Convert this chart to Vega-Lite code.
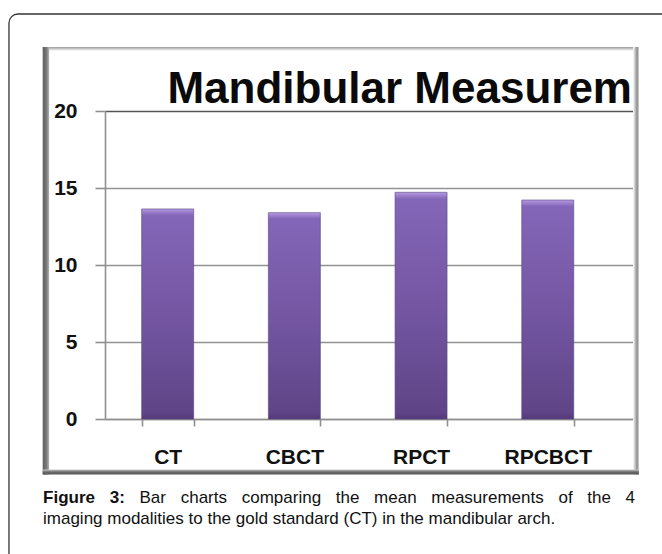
{
  "$schema": "https://vega.github.io/schema/vega-lite/v6.json",
  "width": 532,
  "height": 308,
  "autosize": {"type": "none"},
  "padding": {"left": 105, "top": 111, "right": 25, "bottom": 135},
  "background": "white",
  "config": {"view": {"stroke": null}},
  "resolve": {"scale": {"x": "independent"}, "axis": {"x": "independent", "y": "independent"}},
  "layer": [
    {
      "data": {"values": [{}]},
      "layer": [
        {
          "mark": {"type": "rect", "fill": "transparent", "stroke": "#333333", "strokeWidth": 1.3, "cornerRadius": 9},
          "encoding": {
            "x": {"datum": -0.1805, "type": "quantitative", "scale": {"domain": [0, 1], "nice": false, "zero": false}, "axis": null},
            "x2": {"datum": 1.2},
            "y": {"datum": 26.3, "type": "quantitative", "scale": {"domain": [0, 20], "nice": false}, "axis": null},
            "y2": {"datum": -12}
          }
        },
        {
          "mark": {"type": "rect", "fill": {"gradient": "linear", "x1": 0, "y1": 0, "x2": 0, "y2": 1, "stops": [{"offset": 0, "color": "#9a9a9a"}, {"offset": 1, "color": "#ffffff"}]}},
          "encoding": {
            "x": {"datum": -0.1171, "type": "quantitative", "scale": {"domain": [0, 1], "nice": false, "zero": false}, "axis": null},
            "x2": {"datum": 1.0},
            "y": {"datum": 24.156, "type": "quantitative", "scale": {"domain": [0, 20], "nice": false}, "axis": null},
            "y2": {"datum": 23.9}
          }
        },
        {
          "mark": {"type": "rect", "fill": {"gradient": "linear", "x1": 0, "y1": 0, "x2": 1, "y2": 0, "stops": [{"offset": 0, "color": "#ffffff"}, {"offset": 0.7, "color": "#8c8c8c"}, {"offset": 1, "color": "#c8c8c8"}]}},
          "encoding": {
            "x": {"datum": 0.9925, "type": "quantitative", "scale": {"domain": [0, 1], "nice": false, "zero": false}, "axis": null},
            "x2": {"datum": 1.0035},
            "y": {"datum": 24.156, "type": "quantitative", "scale": {"domain": [0, 20], "nice": false}, "axis": null},
            "y2": {"datum": -3.604}
          }
        },
        {
          "mark": {"type": "rect", "fill": {"gradient": "linear", "x1": 0, "y1": 0, "x2": 1, "y2": 0, "stops": [{"offset": 0, "color": "#5e5e5e"}, {"offset": 0.6, "color": "#7a7a7a"}, {"offset": 1, "color": "#b5b5b5"}]}},
          "encoding": {
            "x": {"datum": -0.1171, "type": "quantitative", "scale": {"domain": [0, 1], "nice": false, "zero": false}, "axis": null},
            "x2": {"datum": -0.1050},
            "y": {"datum": 24.156, "type": "quantitative", "scale": {"domain": [0, 20], "nice": false}, "axis": null},
            "y2": {"datum": -3.604}
          }
        },
        {
          "mark": {"type": "rect", "fill": {"gradient": "linear", "x1": 0, "y1": 0, "x2": 0, "y2": 1, "stops": [{"offset": 0, "color": "#c8c8c8"}, {"offset": 0.5, "color": "#6a6a6a"}, {"offset": 1, "color": "#555555"}]}},
          "encoding": {
            "x": {"datum": -0.1171, "type": "quantitative", "scale": {"domain": [0, 1], "nice": false, "zero": false}, "axis": null},
            "x2": {"datum": 1.0035},
            "y": {"datum": -3.28, "type": "quantitative", "scale": {"domain": [0, 20], "nice": false}, "axis": null},
            "y2": {"datum": -3.604}
          }
        },
        {
          "mark": {"type": "text", "align": "right", "baseline": "alphabetic", "font": "Liberation Sans", "fontSize": 44, "fontWeight": "bold", "color": "#0a0a0a", "text": "Mandibular Measurem"},
          "encoding": {
            "x": {"datum": 0.9906, "type": "quantitative", "scale": {"domain": [0, 1], "nice": false, "zero": false}, "axis": null},
            "y": {"datum": 20.52, "type": "quantitative", "scale": {"domain": [0, 20], "nice": false}, "axis": null}
          }
        },
        {
          "mark": {"type": "text", "align": "left", "baseline": "alphabetic", "font": "Liberation Sans", "fontSize": 17, "fontWeight": "bold", "color": "#111111", "text": "Figure"},
          "encoding": {
            "x": {"datum": -0.1165, "type": "quantitative", "scale": {"domain": [0, 1], "nice": false, "zero": false}, "axis": null},
            "y": {"datum": -5.474, "type": "quantitative", "scale": {"domain": [0, 20], "nice": false}, "axis": null}
          }
        },
        {
          "mark": {"type": "text", "align": "left", "baseline": "alphabetic", "font": "Liberation Sans", "fontSize": 17, "fontWeight": "bold", "color": "#111111", "text": "3:"},
          "encoding": {
            "x": {"datum": 0.0088, "type": "quantitative", "scale": {"domain": [0, 1], "nice": false, "zero": false}, "axis": null},
            "y": {"datum": -5.474, "type": "quantitative", "scale": {"domain": [0, 20], "nice": false}, "axis": null}
          }
        },
        {
          "mark": {"type": "text", "align": "left", "baseline": "alphabetic", "font": "Liberation Sans", "fontSize": 17, "color": "#111111", "text": "Bar"},
          "encoding": {
            "x": {"datum": 0.0648, "type": "quantitative", "scale": {"domain": [0, 1], "nice": false, "zero": false}, "axis": null},
            "y": {"datum": -5.474, "type": "quantitative", "scale": {"domain": [0, 20], "nice": false}, "axis": null}
          }
        },
        {
          "mark": {"type": "text", "align": "left", "baseline": "alphabetic", "font": "Liberation Sans", "fontSize": 17, "color": "#111111", "text": "charts"},
          "encoding": {
            "x": {"datum": 0.1423, "type": "quantitative", "scale": {"domain": [0, 1], "nice": false, "zero": false}, "axis": null},
            "y": {"datum": -5.474, "type": "quantitative", "scale": {"domain": [0, 20], "nice": false}, "axis": null}
          }
        },
        {
          "mark": {"type": "text", "align": "left", "baseline": "alphabetic", "font": "Liberation Sans", "fontSize": 17, "color": "#111111", "text": "comparing"},
          "encoding": {
            "x": {"datum": 0.2570, "type": "quantitative", "scale": {"domain": [0, 1], "nice": false, "zero": false}, "axis": null},
            "y": {"datum": -5.474, "type": "quantitative", "scale": {"domain": [0, 20], "nice": false}, "axis": null}
          }
        },
        {
          "mark": {"type": "text", "align": "left", "baseline": "alphabetic", "font": "Liberation Sans", "fontSize": 17, "color": "#111111", "text": "the"},
          "encoding": {
            "x": {"datum": 0.4338, "type": "quantitative", "scale": {"domain": [0, 1], "nice": false, "zero": false}, "axis": null},
            "y": {"datum": -5.474, "type": "quantitative", "scale": {"domain": [0, 20], "nice": false}, "axis": null}
          }
        },
        {
          "mark": {"type": "text", "align": "left", "baseline": "alphabetic", "font": "Liberation Sans", "fontSize": 17, "color": "#111111", "text": "mean"},
          "encoding": {
            "x": {"datum": 0.5058, "type": "quantitative", "scale": {"domain": [0, 1], "nice": false, "zero": false}, "axis": null},
            "y": {"datum": -5.474, "type": "quantitative", "scale": {"domain": [0, 20], "nice": false}, "axis": null}
          }
        },
        {
          "mark": {"type": "text", "align": "left", "baseline": "alphabetic", "font": "Liberation Sans", "fontSize": 17, "color": "#111111", "text": "measurements"},
          "encoding": {
            "x": {"datum": 0.6133, "type": "quantitative", "scale": {"domain": [0, 1], "nice": false, "zero": false}, "axis": null},
            "y": {"datum": -5.474, "type": "quantitative", "scale": {"domain": [0, 20], "nice": false}, "axis": null}
          }
        },
        {
          "mark": {"type": "text", "align": "left", "baseline": "alphabetic", "font": "Liberation Sans", "fontSize": 17, "color": "#111111", "text": "of"},
          "encoding": {
            "x": {"datum": 0.8523, "type": "quantitative", "scale": {"domain": [0, 1], "nice": false, "zero": false}, "axis": null},
            "y": {"datum": -5.474, "type": "quantitative", "scale": {"domain": [0, 20], "nice": false}, "axis": null}
          }
        },
        {
          "mark": {"type": "text", "align": "left", "baseline": "alphabetic", "font": "Liberation Sans", "fontSize": 17, "color": "#111111", "text": "the"},
          "encoding": {
            "x": {"datum": 0.9066, "type": "quantitative", "scale": {"domain": [0, 1], "nice": false, "zero": false}, "axis": null},
            "y": {"datum": -5.474, "type": "quantitative", "scale": {"domain": [0, 20], "nice": false}, "axis": null}
          }
        },
        {
          "mark": {"type": "text", "align": "right", "baseline": "alphabetic", "font": "Liberation Sans", "fontSize": 17, "color": "#111111", "text": "4"},
          "encoding": {
            "x": {"datum": 0.9962, "type": "quantitative", "scale": {"domain": [0, 1], "nice": false, "zero": false}, "axis": null},
            "y": {"datum": -5.474, "type": "quantitative", "scale": {"domain": [0, 20], "nice": false}, "axis": null}
          }
        },
        {
          "mark": {"type": "text", "align": "left", "baseline": "alphabetic", "font": "Liberation Sans", "fontSize": 17, "color": "#111111", "text": "imaging modalities to the gold standard (CT) in the mandibular arch."},
          "encoding": {
            "x": {"datum": -0.1165, "type": "quantitative", "scale": {"domain": [0, 1], "nice": false, "zero": false}, "axis": null},
            "y": {"datum": -6.838, "type": "quantitative", "scale": {"domain": [0, 20], "nice": false}, "axis": null}
          }
        }
      ]
    },
    {
      "data": {"values": [
        {"modality": "CT", "mean": 13.64},
        {"modality": "CBCT", "mean": 13.40},
        {"modality": "RPCT", "mean": 14.72},
        {"modality": "RPCBCT", "mean": 14.22}
      ]},
      "mark": {
        "type": "bar",
        "fill": {"gradient": "linear", "x1": 0, "y1": 0, "x2": 0, "y2": 1, "stops": [
          {"offset": 0, "color": "#b49ae0"},
          {"offset": 0.015, "color": "#9c7ecb"},
          {"offset": 0.03, "color": "#8466b8"},
          {"offset": 0.5, "color": "#7456a3"},
          {"offset": 0.97, "color": "#5f4587"},
          {"offset": 1, "color": "#53397a"}
        ]},
        "stroke": "#5a4280",
        "strokeWidth": 1,
        "strokeOpacity": 0.6
      },
      "encoding": {
        "x": {
          "field": "modality",
          "type": "nominal",
          "sort": null,
          "scale": {"paddingInner": 0.5896, "paddingOuter": 0.3943, "align": 0.367},
          "axis": {
            "title": null,
            "labelAngle": 0,
            "tickBand": "extent",
            "tickSize": 7,
            "tickColor": "#8f8f8f",
            "tickWidth": 1.6,
            "domainColor": "#8f8f8f",
            "domainWidth": 1.6,
            "labelFont": "Liberation Sans",
            "labelFontSize": 21,
            "labelFontWeight": "bold",
            "labelColor": "#111111",
            "labelPadding": 20,
            "grid": false
          }
        },
        "y": {
          "field": "mean",
          "type": "quantitative",
          "scale": {"domain": [0, 20], "nice": false},
          "axis": {
            "title": null,
            "values": [0, 5, 10, 15, 20],
            "grid": true,
            "gridColor": {"condition": {"test": "datum.value === 20", "value": "#555555"}, "value": "#929292"},
            "gridWidth": 1.6,
            "tickSize": 10,
            "tickColor": "#8f8f8f",
            "tickWidth": 1.6,
            "domainColor": "#8f8f8f",
            "domainWidth": 1.6,
            "labelFont": "Liberation Sans",
            "labelFontSize": 21,
            "labelFontWeight": "bold",
            "labelColor": "#111111",
            "labelPadding": 18
          }
        }
      }
    }
  ]
}
